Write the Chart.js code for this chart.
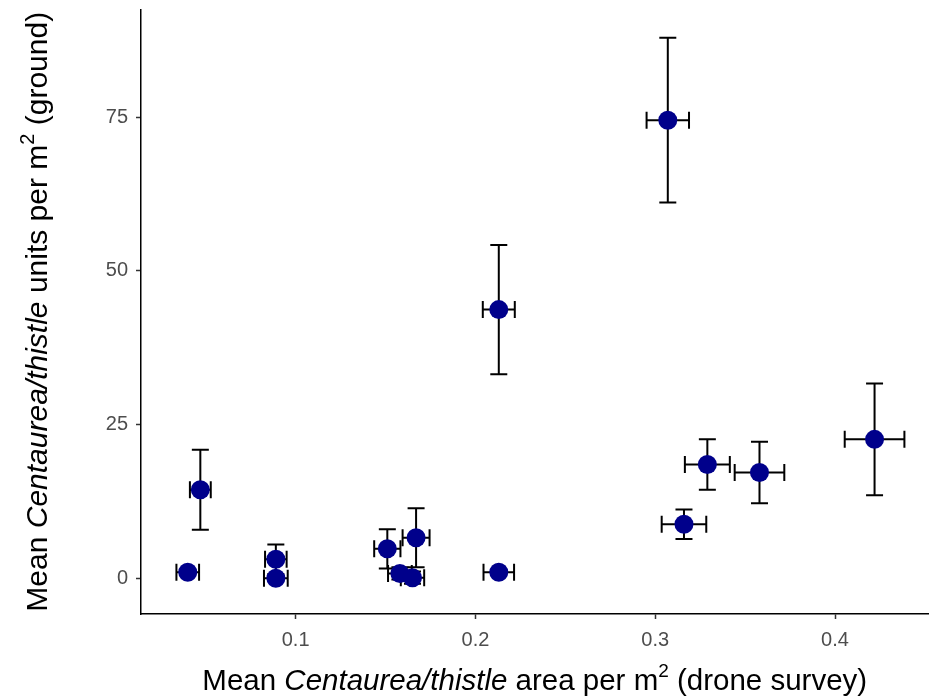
<!DOCTYPE html>
<html>
<head>
<meta charset="utf-8">
<script src="https://cdn.jsdelivr.net/npm/chart.js@4"></script>
<style>
  html, body { margin: 0; padding: 0; background: #fff; }
  #wrap { width: 938px; height: 698px; }
</style>
</head>
<body>
<div id="wrap"><canvas id="chart"></canvas></div>
<script>
// mean drone-survey area (x) vs mean ground count (y), with +/- errors
const xVals = [0.040, 0.047, 0.089, 0.089, 0.151, 0.167, 0.158, 0.165, 0.213, 0.213, 0.307, 0.316, 0.329, 0.358, 0.422];
const yVals = [1.0, 14.4, 3.1, 0.0, 4.8, 6.6, 0.8, 0.1, 1.0, 43.7, 74.5, 8.8, 18.5, 17.2, 22.6];
const xErr = [0.0063, 0.0058, 0.006, 0.0066, 0.0073, 0.0075, 0.0066, 0.0065, 0.0085, 0.0089, 0.0118, 0.0124, 0.0125, 0.0138, 0.0166];
const yErr = [0.3, 6.5, 2.4, 0.3, 3.2, 4.8, 1.0, 1.0, 0.3, 10.5, 13.4, 2.4, 4.1, 5.0, 9.1];

const xTicks = [0.1, 0.2, 0.3, 0.4];
const yTicks = [0, 25, 50, 75];

const xTitle = [['Mean ', 'n'], ['Centaurea/thistle', 'i'], [' area per m', 'n'], ['2', 's'], [' (drone survey)', 'n']];
const yTitle = [['Mean ', 'n'], ['Centaurea/thistle', 'i'], [' units per m', 'n'], ['2', 's'], [' (ground)', 'n']];

const FAMILY = '"Liberation Sans", Arial, sans-serif';

// error bars go under the points
const errorBars = {
  id: 'errorBars',
  beforeDatasetsDraw(chart) {
    const { ctx, scales: { x, y } } = chart;
    const cap = 8.5;
    ctx.save();
    ctx.strokeStyle = '#000';
    ctx.lineWidth = 2;
    xVals.forEach((xv, i) => {
      const px = x.getPixelForValue(xv);
      const py = y.getPixelForValue(yVals[i]);
      const top = y.getPixelForValue(yVals[i] + yErr[i]);
      const bot = y.getPixelForValue(yVals[i] - yErr[i]);
      const left = x.getPixelForValue(xv - xErr[i]);
      const right = x.getPixelForValue(xv + xErr[i]);
      ctx.beginPath();
      ctx.moveTo(px, top); ctx.lineTo(px, bot);
      ctx.moveTo(px - cap, top); ctx.lineTo(px + cap, top);
      ctx.moveTo(px - cap, bot); ctx.lineTo(px + cap, bot);
      ctx.moveTo(left, py); ctx.lineTo(right, py);
      ctx.moveTo(left, py - cap); ctx.lineTo(left, py + cap);
      ctx.moveTo(right, py - cap); ctx.lineTo(right, py + cap);
      ctx.stroke();
    });
    ctx.restore();
  }
};

function drawRich(ctx, parts, size) {
  const fontFor = k => (k === 'i' ? 'italic ' : '') + (k === 's' ? Math.round(size * 0.65) : size) + 'px ' + FAMILY;
  let total = 0;
  parts.forEach(([t, k]) => { ctx.font = fontFor(k); total += ctx.measureText(t).width; });
  let pos = -total / 2;
  parts.forEach(([t, k]) => {
    ctx.font = fontFor(k);
    ctx.fillText(t, pos, k === 's' ? -size * 0.45 : 0);
    pos += ctx.measureText(t).width;
  });
}

// axis titles with italic species name and superscript
const axisTitles = {
  id: 'axisTitles',
  afterDraw(chart) {
    const { ctx, chartArea } = chart;
    ctx.save();
    ctx.fillStyle = '#000';
    ctx.textBaseline = 'alphabetic';
    ctx.textAlign = 'left';
    ctx.save();
    ctx.translate((chartArea.left + chartArea.right) / 2, 690);
    drawRich(ctx, xTitle, 29.5);
    ctx.restore();
    ctx.save();
    ctx.translate(47, (chartArea.top + chartArea.bottom) / 2);
    ctx.rotate(-Math.PI / 2);
    drawRich(ctx, yTitle, 30);
    ctx.restore();
    ctx.restore();
  }
};

const axisCommon = {
  type: 'linear',
  grid: { display: true, drawOnChartArea: false, drawTicks: true, tickLength: 5, tickColor: '#333', tickWidth: 1.5 },
  border: { display: true, color: '#000', width: 1.5 },
};

new Chart(document.getElementById('chart'), {
  type: 'scatter',
  data: {
    datasets: [{
      data: xVals.map((x, i) => ({ x, y: yVals[i] })),
      pointRadius: 9.5,
      pointHoverRadius: 9.5,
      pointBackgroundColor: '#00008B',
      pointBorderWidth: 0,
    }]
  },
  options: {
    responsive: true,
    maintainAspectRatio: false,
    animation: false,
    layout: { padding: { left: 0, top: 8, right: 0, bottom: 0 } },
    plugins: { legend: { display: false }, tooltip: { enabled: false } },
    scales: {
      x: {
        ...axisCommon,
        min: 0.014,
        max: 0.452,
        afterBuildTicks: s => { s.ticks = xTicks.map(v => ({ value: v })); },
        afterFit: s => { s.height = 84; s.paddingLeft = 0; s.paddingRight = 0; },
        ticks: { autoSkip: false, color: '#4d4d4d', padding: 9, font: { size: 20, family: FAMILY } },
      },
      y: {
        ...axisCommon,
        min: -5.8,
        max: 92.5,
        afterBuildTicks: s => { s.ticks = yTicks.map(v => ({ value: v })); },
        afterFit: s => { s.width = 141; s.paddingTop = 0; s.paddingBottom = 0; },
        ticks: { autoSkip: false, color: '#4d4d4d', padding: 8, font: { size: 20, family: FAMILY } },
      }
    }
  },
  plugins: [errorBars, axisTitles]
});
</script>
</body>
</html>
